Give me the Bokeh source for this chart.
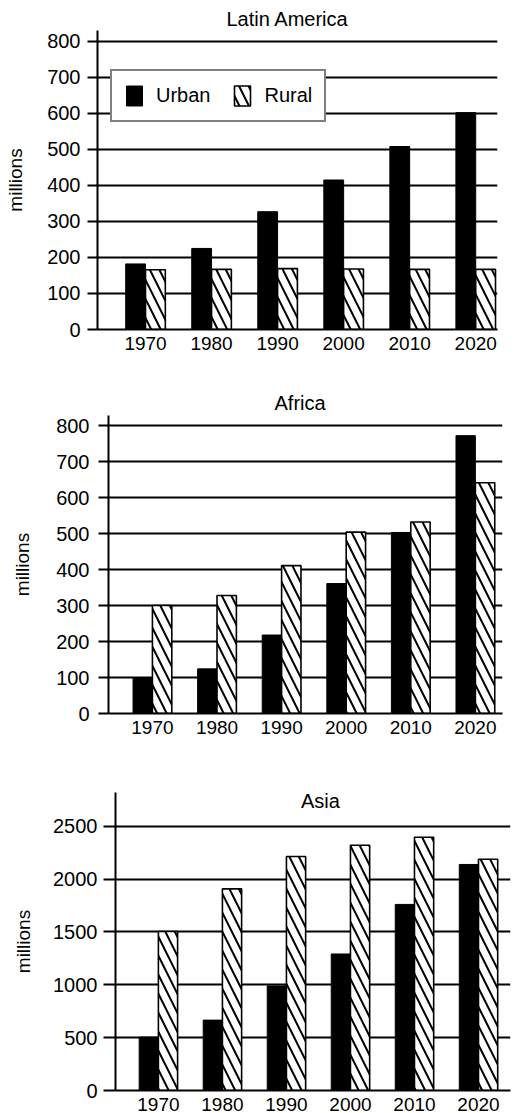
from bokeh.plotting import figure
from bokeh.models import ColumnDataSource, Range1d, FixedTicker, Label
from bokeh.transform import dodge
from bokeh.embed import file_html
from bokeh.resources import INLINE

years = ["1970", "1980", "1990", "2000", "2010", "2020"]

latam_urban = [182, 225, 327, 415, 508, 602]
latam_rural = [166, 167, 169, 168, 167, 167]

africa_urban = [100, 124, 218, 361, 503, 772]
africa_rural = [300, 328, 411, 504, 532, 641]

asia_urban = [505, 666, 990, 1292, 1761, 2139]
asia_rural = [1505, 1908, 2214, 2321, 2397, 2189]

latam_ticks = [0, 100, 200, 300, 400, 500, 600, 700, 800]
africa_ticks = [0, 100, 200, 300, 400, 500, 600, 700, 800]
asia_ticks = [0, 500, 1000, 1500, 2000, 2500]

FONT = "Liberation Sans"
W = 512


def make_panel(urban, rural, yticks, xr, yr, height, frame_h, bl, br, bt,
               tick_out, lab_standoff, axlab_standoff, legend=False):
    xs = list(range(len(years)))
    src = ColumnDataSource(dict(x=xs, urban=urban, rural=rural))
    p = figure(width=W, height=height, output_backend="svg", toolbar_location=None,
               x_range=Range1d(*xr), y_range=Range1d(*yr),
               min_border_left=bl, min_border_right=br, min_border_top=bt,
               min_border_bottom=height - bt - frame_h)
    p.outline_line_color = None
    p.background_fill_color = "white"
    p.border_fill_color = "white"

    kw_u = dict(legend_label="Urban") if legend else {}
    kw_r = dict(legend_label="Rural") if legend else {}
    p.vbar(x=dodge("x", -0.15, range=p.x_range), top="urban", bottom=0, width=0.3,
           source=src, fill_color="black", line_color="black", line_width=1, **kw_u)
    p.vbar(x=dodge("x", 0.15, range=p.x_range), top="rural", bottom=0, width=0.3,
           source=src, fill_color="white", line_color="black", line_width=1.6,
           hatch_pattern="\\", hatch_color="black", hatch_weight=2, hatch_scale=19,
           **kw_r)

    p.xaxis.ticker = FixedTicker(ticks=xs)
    p.xaxis.major_label_overrides = {i: y for i, y in enumerate(years)}
    p.xaxis.major_tick_line_color = None
    p.xaxis.minor_tick_line_color = None
    p.xaxis.axis_line_width = 2
    p.xaxis.axis_line_color = "black"
    p.xaxis.major_label_standoff = 1
    p.xaxis.major_label_text_font = FONT
    p.xaxis.major_label_text_font_size = "19px"
    p.xaxis.major_label_text_color = "black"

    p.yaxis.ticker = FixedTicker(ticks=yticks)
    p.yaxis.axis_line_width = 2
    p.yaxis.axis_line_color = "black"
    p.yaxis.major_tick_line_width = 2
    p.yaxis.major_tick_line_color = "black"
    p.yaxis.major_tick_out = tick_out
    p.yaxis.major_tick_in = 0
    p.yaxis.minor_tick_line_color = None
    p.yaxis.major_label_standoff = lab_standoff
    p.yaxis.major_label_text_font = FONT
    p.yaxis.major_label_text_font_size = "20px"
    p.yaxis.major_label_text_color = "black"
    p.yaxis.axis_label = "millions"
    p.yaxis.axis_label_text_font = FONT
    p.yaxis.axis_label_text_font_size = "19px"
    p.yaxis.axis_label_text_font_style = "normal"
    p.yaxis.axis_label_text_color = "black"
    p.yaxis.axis_label_standoff = axlab_standoff

    p.xgrid.grid_line_color = None
    p.ygrid.grid_line_color = "black"
    p.ygrid.grid_line_width = 1.8

    if legend:
        lg = p.legend[0]
        lg.orientation = "horizontal"
        lg.location = (13, 207)
        lg.margin = 0
        lg.padding = 12
        lg.spacing = 22
        lg.glyph_width = 20
        lg.glyph_height = 25
        lg.label_standoff = 12
        lg.label_text_font = FONT
        lg.label_text_font_size = "20px"
        lg.label_text_color = "black"
        lg.border_line_color = "black"
        lg.border_line_width = 2
        lg.background_fill_color = "white"
        lg.background_fill_alpha = 1
    return p


def set_title(p, text, offset, standoff):
    p.title.text = text
    p.title.align = "left"
    p.title.offset = offset
    p.title.standoff = standoff
    p.title.text_font = FONT
    p.title.text_font_size = "20px"
    p.title.text_font_style = "normal"
    p.title.text_color = "black"


p1 = make_panel(latam_urban, latam_rural, latam_ticks,
                (-0.727, 5.33), (0, 830), 372, 299, 97, W - 97 - 400, 30, 10, 7, 18,
                legend=True)
set_title(p1, "Latin America", 129, 2)

p2 = make_panel(africa_urban, africa_rural, africa_ticks,
                (-0.68, 5.42), (0, 828), 373, 298, 108, W - 108 - 394, 43, 10, 9, 20)
set_title(p2, "Africa", 166, 4)

p3 = make_panel(asia_urban, asia_rural, asia_ticks,
                (-0.67, 5.5), (0, 2820), 368, 300, 115, W - 115 - 395, 47, 12, 6, 16)
p3.add_layout(Label(x=2.53, y=2632, text="Asia", text_align="center",
                    text_baseline="bottom", text_font=FONT, text_font_size="20px",
                    text_color="black"))

open("out.html", "w").write(file_html([p1, p2, p3], INLINE))
